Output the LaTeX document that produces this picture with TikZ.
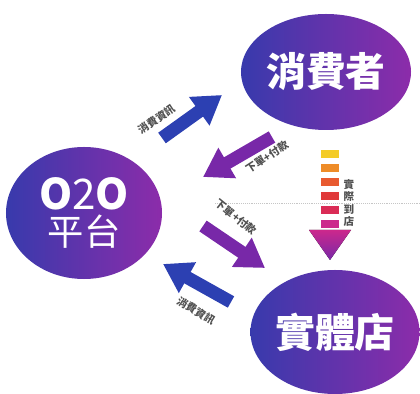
\documentclass[tikz,border=0pt]{standalone}
\usepackage{fontspec}
\newfontfamily\cjk{Noto Sans CJK TC}
\usetikzlibrary{shapes.geometric,arrows.meta}

\definecolor{ellblue}{RGB}{56,58,172}
\definecolor{ellpurple}{RGB}{140,44,170}
\definecolor{arrblue}{RGB}{44,64,178}
\definecolor{arrpurple}{RGB}{120,40,168}
\definecolor{lblgray}{RGB}{80,80,80}
\definecolor{dashA}{RGB}{244,204,40}
\definecolor{dashB}{RGB}{238,140,40}
\definecolor{dashC}{RGB}{232,90,48}
\definecolor{dashD}{RGB}{224,58,58}
\definecolor{dashE}{RGB}{218,44,86}
\definecolor{dashF}{RGB}{204,40,140}

\begin{document}
\begin{tikzpicture}[x=0.03cm,y=0.03cm,
	party/.style={ellipse,left color=ellblue,right color=ellpurple,text=white,inner sep=0pt,align=center},
	bluearrow/.style={draw=arrblue,line width=0.39cm,-{Triangle[length=0.84cm,width=1.0cm]}},
	purplearrow/.style={draw=arrpurple,line width=0.39cm,-{Triangle[length=0.84cm,width=1.0cm]}},
	flowlabel/.style={text=lblgray,font=\cjk\bfseries\fontsize{9}{9}\selectfont,inner sep=0pt}
	]
		\useasboundingbox (0,0) rectangle (420,394);
		
		\draw[gray!45,densely dotted,line width=0.6pt] (215,191) -- (420,191);
		
		% the three parties
		\node[party,minimum width=5.1cm,minimum height=3.48cm,font=\cjk\bfseries\fontsize{34}{36}\selectfont] (consumer) at (326,322) {消費者};
		\node[party,minimum width=4.68cm,minimum height=3.96cm,font=\cjk\fontsize{31}{30}\selectfont] (platform) at (84,181) {{\fontsize{36}{30}\selectfont\textbf{O}2\textbf{O}}\\平台};
		\node[party,minimum width=4.92cm,minimum height=3.72cm,font=\cjk\bfseries\fontsize{34}{36}\selectfont] (store) at (335,62) {實體店};
		
		% flows between them
		\coordinate (infoUpS) at (162,256);
		\coordinate (infoUpE) at (222,299);
		\coordinate (orderInS) at (272,257);
		\coordinate (orderInE) at (203,217);
		\coordinate (orderOutS) at (203,168);
		\coordinate (orderOutE) at (265,126);
		\coordinate (infoDnS) at (231,92);
		\coordinate (infoDnE) at (163,130);
		
		\draw[bluearrow] (infoUpS) -- (infoUpE);
		\draw[purplearrow] (orderInS) -- (orderInE);
		\draw[purplearrow] (orderOutS) -- (orderOutE);
		\draw[bluearrow] (infoDnS) -- (infoDnE);
		
		\node[flowlabel,rotate=34] (infoUpL) at (157,275) {消費資訊};
		\node[flowlabel,rotate=33] (orderInL) at (267,237) {下單+付款};
		\node[flowlabel,rotate=-39] (orderOutL) at (236,177) {下單+付款};
		\node[flowlabel,rotate=-31] (infoDnL) at (196,83) {消費資訊};
		
		% visit the shop
		\foreach \i/\col in {0/dashA,1/dashB,2/dashC,3/dashD,4/dashE,5/dashF}
			\fill[\col] (321,{236-14*\i}) rectangle (339,{244-14*\i});
		\fill[top color=dashF,bottom color=arrpurple] (309,164) -- (351,164) -- (330,134) -- cycle;
		
		\node[flowlabel,align=center,font=\cjk\bfseries\fontsize{9}{10.5}\selectfont] (visitL) at (349,191) {實\\際\\到\\店};
	\end{tikzpicture}
\end{document}
